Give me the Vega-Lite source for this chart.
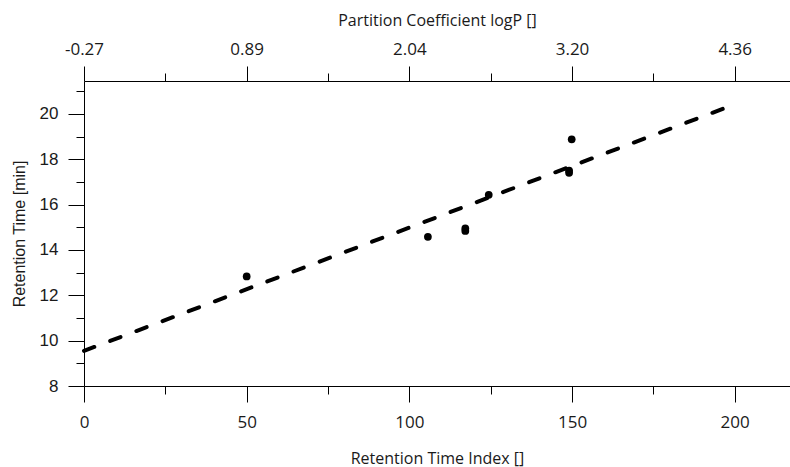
{
  "$schema": "https://vega.github.io/schema/vega-lite/v6.json",
  "width": 706,
  "height": 305,
  "autosize": {"type": "none"},
  "padding": {"left": 84, "top": 81, "right": 0, "bottom": 81},
  "background": "white",
  "config": {
    "view": {"stroke": null},
    "axis": {
      "grid": false,
      "domainColor": "#000000",
      "domainWidth": 1,
      "tickColor": "#000000",
      "tickWidth": 1,
      "labelColor": "#1a1a1a",
      "titleColor": "#1a1a1a",
      "titleFontWeight": "normal"
    }
  },
  "datasets": {
    "pts": [
      {"rti": 50, "rt": 12.83},
      {"rti": 105.7, "rt": 14.58},
      {"rti": 117.2, "rt": 14.84},
      {"rti": 117.2, "rt": 14.95},
      {"rti": 124.4, "rt": 16.43},
      {"rti": 149.1, "rt": 17.4},
      {"rti": 149.1, "rt": 17.5},
      {"rti": 149.9, "rt": 18.88}
    ],
    "fit": [
      {"rti": 0, "rt": 9.55},
      {"rti": 200, "rt": 20.42}
    ]
  },
  "layer": [
    {
      "data": {"name": "pts"},
      "mark": {"type": "point", "filled": true, "color": "#000000", "opacity": 1, "size": 60},
      "encoding": {
        "x": {
          "field": "rti", "type": "quantitative",
          "scale": {"domain": [0, 217], "nice": false, "zero": false},
          "axis": {
            "orient": "bottom", "values": [0, 50, 100, 150, 200], "tickSize": 16,
            "title": "Retention Time Index []", "titleFont": "Open Sans", "titleFontSize": 16,
            "labelFont": "Open Sans", "labelFontSize": 17, "labelPadding": 12, "titlePadding": 20,
            "labelFlush": false
          }
        },
        "y": {
          "field": "rt", "type": "quantitative",
          "scale": {"domain": [8, 21.45], "nice": false, "zero": false},
          "axis": {
            "orient": "left", "values": [8, 10, 12, 14, 16, 18, 20], "tickSize": 16,
            "title": "Retention Time [min]", "titleFont": "Liberation Sans", "titleFontSize": 16,
            "labelFont": "Liberation Sans", "labelFontSize": 17, "labelPadding": 10, "titlePadding": 12,
            "labelFlush": false
          }
        }
      }
    },
    {
      "data": {"name": "fit"},
      "mark": {"type": "line", "color": "#000000", "strokeWidth": 4, "strokeDash": [11, 17], "strokeCap": "round"},
      "encoding": {
        "x": {
          "field": "rti", "type": "quantitative",
          "scale": {"domain": [0, 217], "nice": false, "zero": false},
          "axis": {
            "orient": "top", "values": [0, 50, 100, 150, 200], "tickSize": 15,
            "labelExpr": "['-0.27','0.89','2.04','3.20','4.36'][round(datum.value/50)]",
            "title": "Partition Coefficient logP []", "titleFont": "Open Sans", "titleFontSize": 16,
            "labelFont": "Open Sans", "labelFontSize": 17, "labelPadding": 8, "titlePadding": 12,
            "labelFlush": false
          }
        },
        "y": {
          "field": "rt", "type": "quantitative",
          "scale": {"domain": [8, 21.45], "nice": false, "zero": false},
          "axis": {
            "orient": "left", "values": [9, 11, 13, 15, 17, 19, 21], "tickSize": 8,
            "labels": false, "domain": false, "title": null
          }
        }
      }
    },
    {
      "data": {"name": "fit"},
      "mark": {"type": "line", "opacity": 0},
      "encoding": {
        "x": {
          "field": "rti", "type": "quantitative",
          "scale": {"domain": [0, 217], "nice": false, "zero": false},
          "axis": {"orient": "bottom", "values": [25, 75, 125, 175], "tickSize": 8, "labels": false, "domain": false, "title": null}
        },
        "y": {"field": "rt", "type": "quantitative", "scale": {"domain": [8, 21.45], "nice": false, "zero": false}, "axis": null}
      }
    },
    {
      "data": {"name": "fit"},
      "mark": {"type": "line", "opacity": 0},
      "encoding": {
        "x": {
          "field": "rti", "type": "quantitative",
          "scale": {"domain": [0, 217], "nice": false, "zero": false},
          "axis": {"orient": "top", "values": [25, 75, 125, 175], "tickSize": 8, "labels": false, "domain": false, "title": null}
        },
        "y": {"field": "rt", "type": "quantitative", "scale": {"domain": [8, 21.45], "nice": false, "zero": false}, "axis": null}
      }
    }
  ],
  "resolve": {"axis": {"x": "independent", "y": "independent"}}
}
